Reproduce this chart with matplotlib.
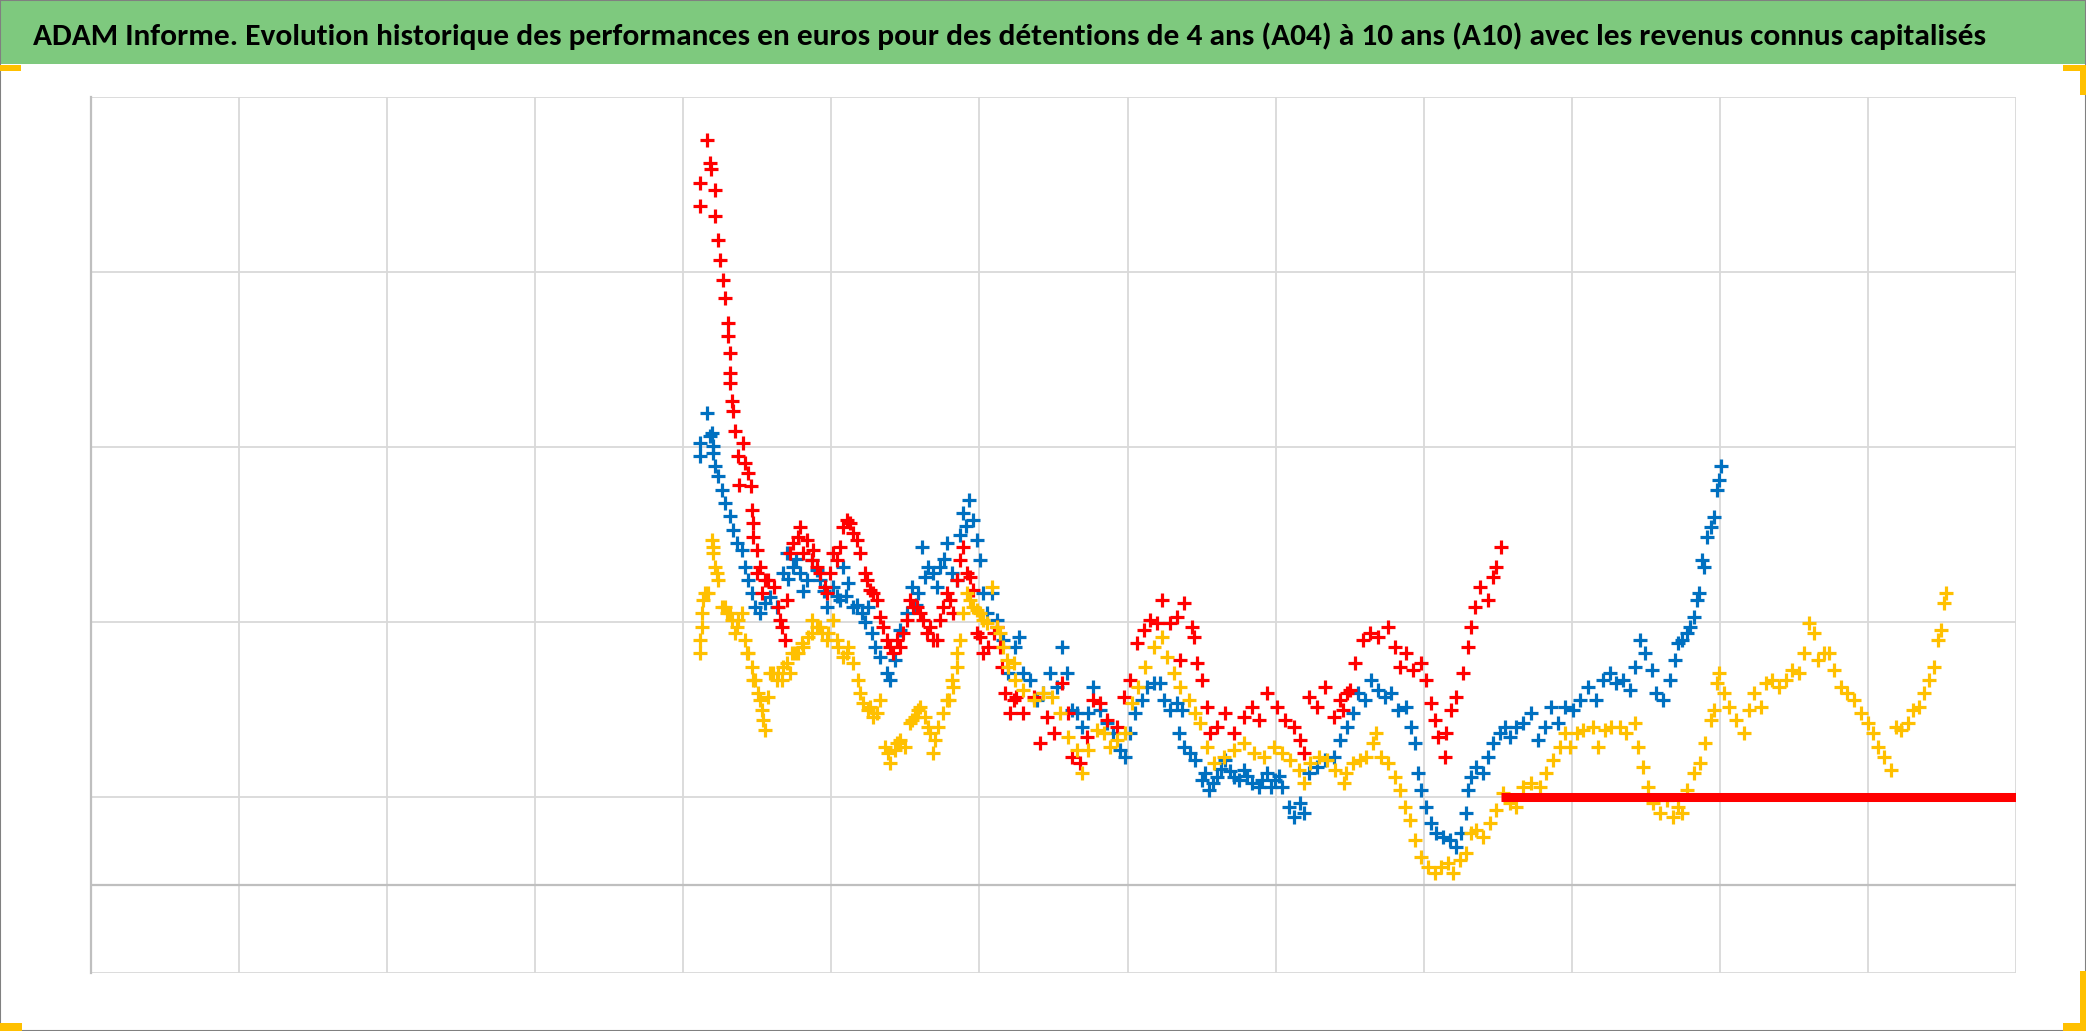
import numpy as np
import matplotlib
matplotlib.use("Agg")
import matplotlib.pyplot as plt
from matplotlib import font_manager
from matplotlib.patches import Rectangle

TITLE = ("ADAM Informe. Evolution historique des performances en euros pour des détentions "
         "de 4 ans (A04) à 10 ans (A10) avec les revenus connus capitalisés")

# x in years on the chart grid (0..13), y in euros
red_x = [4.158, 4.18, 4.19, 4.113, 4.113, 4.214, 4.214, 4.236, 4.248, 4.27, 4.28, 4.30, 4.30,
         4.315, 4.315, 4.318, 4.331, 4.333, 4.349, 4.405, 4.372, 4.417, 4.439, 4.378, 4.455, 4.462, 4.473,
         4.473, 4.495, 4.518, 4.55, 4.61, 4.64, 4.664, 4.687, 4.698, 4.72, 4.743, 4.788, 4.833, 4.878,
         4.923, 4.957, 4.99, 5.01, 5.059, 5.104, 5.149, 5.194, 5.227, 5.26, 5.306, 5.33, 5.374, 5.419,
         5.464, 5.509, 5.554, 5.599, 5.644, 5.689, 5.734, 5.779, 5.824, 5.869, 5.914, 5.959, 5.98, 6.027,
         6.095, 6.14, 6.173, 6.207, 6.25,
         4.495, 4.574, 4.529, 4.653, 4.777, 4.811, 4.867, 4.901, 4.968, 5.037, 5.081, 5.126, 5.171,
         5.239, 5.284, 5.351, 5.396, 5.441, 5.486, 5.532, 5.577, 5.622, 5.667, 5.712, 5.757, 5.802,
         5.847, 5.892, 5.937, 6.005, 6.061, 6.117, 6.151, 6.23,
         6.297, 6.365, 6.41, 6.455, 6.5, 6.556, 6.601, 6.624, 6.68, 6.725, 6.77, 6.815, 6.86, 6.928,
         6.973, 7.018, 7.063, 7.108, 7.153, 7.198, 7.232, 7.288, 7.333, 7.378, 7.435, 7.446, 7.356,
         7.468, 7.502, 7.536, 7.559, 7.604, 7.66, 7.716, 7.784, 7.84, 7.885, 7.941, 8.009, 8.065,
         8.122, 8.167, 8.189, 8.223, 8.279, 8.336, 8.392, 8.437, 8.482,
         8.455, 8.5, 8.534, 8.59, 8.635, 8.691, 8.759, 8.804, 8.838, 8.883, 8.928, 8.984, 9.018,
         9.052, 9.074, 9.097, 9.142, 9.153, 9.187, 9.221, 9.266, 9.3, 9.322, 9.345, 9.378, 9.435,
         9.468, 9.491, 9.525]
red_y = [425.7, 412.4, 408.6, 401.0, 387.6, 397.1, 381.9, 368.6, 357.1, 345.7, 335.2, 321.0, 313.3,
         303.8, 292.4, 286.7, 276.2, 270.5, 259.0, 252.4, 244.8, 241.0, 235.2, 228.6, 227.6, 214.3, 206.7,
         199.0, 191.3, 181.8, 174.2, 170.4, 159.0, 147.5, 139.9, 162.8, 189.4, 195.1, 204.7, 197.0, 191.3,
         178.0, 170.4, 178.0, 189.4, 193.2, 208.5, 200.9, 189.4, 178.0, 168.5, 162.8, 153.2, 139.9, 132.3,
         136.1, 151.3, 159.0, 155.1, 143.7, 139.9, 151.3, 166.6, 155.1, 185.6, 178.0, 168.5, 143.7, 132.3,
         143.7, 136.1, 109.4, 98.0, 107.5,
         178.0, 174.2, 166.6, 151.3, 199.0, 189.4, 185.6, 181.8, 166.6, 185.6, 204.7, 206.6, 197.0,
         174.2, 166.6, 147.5, 136.1, 139.9, 143.7, 162.8, 159.0, 151.3, 147.5, 139.9, 159.0, 162.8,
         174.2, 193.2, 176.1, 141.8, 136.1, 147.5, 124.7, 105.6,
         98.0, 107.5, 80.9, 96.1, 86.6, 115.1, 98.0, 73.2, 69.4, 84.7, 105.6, 103.7, 94.2, 90.4,
         107.5, 117.0, 138.0, 145.6, 151.3, 149.4, 162.8, 149.4, 153.2, 160.9, 147.5, 141.8, 128.5,
         126.6, 117.0, 101.8, 86.6, 90.4, 98.0, 86.6, 96.1, 101.8, 94.2, 109.4, 101.8, 94.2,
         90.4, 82.8, 75.1, 107.5, 101.8, 113.2, 96.1, 105.6, 109.4,
         99.9, 111.3, 126.6, 139.9, 143.7, 141.8, 147.5, 136.1, 124.7, 132.3, 122.8, 126.6, 117.0,
         103.7, 94.2, 84.7, 73.2, 86.6, 99.9, 107.5, 120.9, 136.1, 147.5, 159.0, 170.4, 162.8,
         176.1, 181.8, 193.2]

blue_x = [4.158, 4.113, 4.18, 4.113, 4.203, 4.214, 4.236, 4.259, 4.28, 4.315, 4.191, 4.203, 4.338,
          4.36, 4.394, 4.417, 4.439, 4.462, 4.484, 4.518, 4.552, 4.586, 4.631, 4.676, 4.698, 4.743,
          4.788, 4.833, 4.867, 4.923, 4.968, 5.014, 5.059, 5.081, 5.115, 5.149, 5.205, 5.25, 5.273,
          5.295, 5.329, 5.374, 5.396, 5.43, 5.464, 5.509, 5.543, 5.588, 5.61, 5.655, 5.689, 5.734,
          5.779, 5.813, 5.847, 5.892, 5.926, 5.959, 5.982, 6.005, 6.027, 6.05, 6.083, 6.117, 6.162,
          6.196, 6.241,
          4.71, 4.76, 4.81, 4.90, 4.95, 5.04, 5.10, 5.17, 5.23, 5.57, 5.63, 5.71, 5.76, 5.87, 5.91,
          6.264, 6.297, 6.342, 6.387, 6.432, 6.477, 6.523, 6.556, 6.59, 6.624, 6.658, 6.691, 6.736,
          6.77, 6.815, 6.86, 6.905, 6.95, 6.984, 7.018, 7.052, 7.097, 7.131, 7.176, 7.221, 7.243,
          7.288, 7.333, 7.367, 7.345, 7.378, 7.423, 7.457, 7.502, 7.547, 7.604, 7.66, 7.716, 7.784,
          7.84, 7.885, 7.941, 7.998, 8.043, 8.088, 8.122, 8.167, 8.189, 8.223, 8.279, 8.336, 8.392,
          8.437, 8.482,
          7.52, 7.58, 7.63, 7.69, 7.75, 7.81, 7.91, 7.97, 8.02,
          8.523, 8.556, 8.601, 8.646, 8.691, 8.736, 8.781, 8.827, 8.883, 8.917, 8.939, 8.962, 8.984,
          9.018, 9.052, 9.086, 9.131, 9.176, 9.221, 9.255, 9.288, 9.3, 9.322, 9.356, 9.401, 9.435,
          9.468, 9.514, 9.547, 9.581, 9.626, 9.671, 9.727, 9.773, 9.818, 9.863, 9.908, 9.953, 10.009,
          10.054, 10.11, 10.167, 10.212, 10.257, 10.302, 10.347, 10.392, 10.426, 10.459, 10.493,
          10.541, 10.572, 10.617, 10.662, 10.696, 10.718,
          10.745, 10.779, 10.801, 10.824, 10.847, 10.858, 10.88, 10.892, 10.914, 10.937, 10.959,
          10.982, 10.993, 11.005]
blue_y = [269.5, 252.4, 256.2, 244.8, 250.5, 239.0, 233.3, 225.7, 218.1, 210.5, 258.0, 246.6, 202.8,
          195.1, 191.3, 181.8, 174.2, 166.6, 159.0, 155.1, 160.9, 164.7, 159.0, 178.0, 189.4, 181.8,
          178.0, 174.2, 185.6, 174.2, 159.0, 170.4, 162.8, 181.8, 172.3, 159.0, 155.1, 159.0, 143.7,
          136.1, 130.4, 120.9, 117.0, 128.5, 145.6, 155.1, 170.4, 166.6, 193.2, 181.8, 178.0, 181.8,
          195.1, 178.0, 174.2, 212.3, 219.9, 208.5, 197.0, 185.6, 166.6, 155.1, 166.6, 151.3, 139.9,
          120.9, 136.1,
          175.0, 186.0, 168.0, 180.0, 168.0, 165.0, 165.0, 160.0, 150.0, 160.0, 176.0, 170.0, 186.0, 200.0, 205.0,
          141.8, 120.9, 117.0, 105.6, 109.4, 120.9, 113.2, 136.1, 120.9, 99.9, 98.0, 90.4, 98.0,
          113.2, 99.9, 92.3, 86.6, 77.1, 73.2, 86.6, 98.0, 105.6, 113.2, 115.1, 115.1, 105.6,
          99.9, 103.7, 99.9, 86.6, 79.0, 75.2, 71.4, 59.9, 54.2, 61.8, 71.4, 61.8, 65.6,
          58.0, 56.1, 63.7, 59.9, 56.1, 44.7, 39.0, 46.6, 41.0, 63.7, 67.5, 71.4, 73.3,
          82.8, 90.4,
          64.0, 58.0, 66.0, 65.0, 60.0, 62.0, 60.0, 56.0, 62.0,
          98.0, 109.4, 105.6, 117.0, 111.3, 107.5, 109.4, 99.9, 101.8, 90.4, 80.9, 63.7, 54.2,
          44.7, 35.2, 29.5, 27.6, 25.7, 21.9, 29.5, 40.9, 54.2, 61.8, 67.5, 63.7, 73.2,
          80.9, 86.6, 90.4, 84.7, 90.4, 92.3, 98.0, 82.8, 90.4, 101.8, 92.3, 101.8, 99.9,
          105.6, 113.2, 105.6, 117.0, 120.9, 115.1, 117.0, 111.3, 124.7, 139.9, 132.3,
          122.8, 109.4, 105.6, 117.0, 128.5, 138.0,
          139.9, 143.7, 147.5, 153.2, 162.8, 166.6, 185.6, 181.8, 199.0, 204.7, 210.4,
          225.6, 231.3, 239.0]

gold_x = [4.113, 4.113, 4.124, 4.135, 4.169, 4.191, 4.203, 4.214, 4.236, 4.259, 4.293, 4.327, 4.36,
          4.394, 4.417, 4.439, 4.462, 4.484, 4.507, 4.529, 4.552, 4.574, 4.608, 4.642, 4.664, 4.698,
          4.732, 4.777, 4.811, 4.845, 4.867, 4.901, 4.935, 4.968, 5.014, 5.047, 5.081, 5.115, 5.149,
          5.182, 5.216, 5.25, 5.284, 5.329, 5.363, 5.396, 5.43, 5.464, 5.495, 5.532, 5.565, 5.599,
          5.633, 5.667, 5.689, 5.723, 5.757, 5.791, 5.824, 5.847, 5.869, 5.892, 5.914, 5.959, 6.005,
          6.05, 6.083, 6.117, 6.162, 6.196, 6.241,
          4.124, 4.146, 4.203, 4.225, 4.282, 4.315, 4.349, 4.372, 4.428, 4.473, 4.518, 4.541, 4.586,
          4.631, 4.676, 4.721, 4.755, 4.8, 4.867, 4.923, 4.98, 5.036, 5.104, 5.194, 5.261, 5.306,
          5.385, 5.441, 5.543, 5.588, 5.655, 5.7, 5.779, 5.813, 5.847, 5.937, 5.982, 6.027, 6.14, 6.185,
          6.23, 6.297, 6.365, 6.432, 6.489, 6.545, 6.601, 6.658, 6.691, 6.736, 6.793, 6.838, 6.883,
          6.928, 6.984, 7.029, 7.074, 7.119, 7.176, 7.232, 7.266, 7.311, 7.356, 7.412, 7.457, 7.491,
          7.536, 7.581, 7.649, 7.716, 7.784, 7.851, 7.919, 7.986, 8.043, 8.099, 8.155, 8.189, 8.234,
          8.291, 8.347, 8.403, 8.459,
          8.477, 8.523, 8.568, 8.613, 8.658, 8.68, 8.714, 8.759, 8.804, 8.838, 8.872, 8.905, 8.939,
          8.984, 9.029, 9.074, 9.119, 9.164, 9.198, 9.243, 9.288, 9.322, 9.356, 9.401, 9.446, 9.491,
          9.536, 9.581, 9.626, 9.671, 9.727, 9.784, 9.829, 9.874, 9.919, 9.953, 9.986, 10.032,
          10.077, 10.144, 10.178, 10.223, 10.268, 10.324, 10.369, 10.426, 10.448, 10.482, 10.516,
          10.55, 10.595, 10.64, 10.685, 10.718,
          10.745, 10.779, 10.824, 10.869, 10.903, 10.937, 10.959, 10.982, 10.993, 11.027, 11.061,
          11.106, 11.163, 11.196, 11.23, 11.275, 11.309, 11.354, 11.4, 11.445, 11.49, 11.535,
          11.569, 11.603, 11.637, 11.66, 11.704, 11.738, 11.772, 11.817, 11.862, 11.907, 11.953,
          11.998, 12.032, 12.065, 12.111, 12.156, 12.19, 12.223, 12.269, 12.302, 12.348, 12.381,
          12.415, 12.449, 12.472, 12.494, 12.517, 12.528]
gold_y = [132.3, 139.9, 155.1, 162.8, 166.6, 197.0, 189.4, 181.8, 174.2, 159.0, 155.1, 151.3, 147.5,
          155.1, 139.9, 132.3, 124.7, 117.0, 109.4, 99.9, 88.5, 107.5, 120.9, 120.9, 117.0, 126.6,
          132.3, 132.3, 136.1, 141.8, 151.3, 147.5, 143.7, 139.9, 151.3, 136.1, 130.4, 136.1, 126.6,
          117.0, 103.7, 99.9, 96.1, 105.6, 79.0, 69.4, 77.1, 82.8, 79.0, 92.3, 96.1, 101.8,
          96.1, 86.6, 75.1, 90.4, 98.0, 105.6, 113.2, 124.7, 139.9, 155.1, 166.6, 159.0, 155.1,
          149.4, 170.4, 147.5, 136.1, 124.7, 117.0,
          147.5, 166.6, 193.2, 178.0, 159.0, 155.1, 143.7, 151.3, 132.3, 117.0, 105.6, 94.2, 120.9,
          117.0, 124.7, 120.9, 132.3, 138.0, 143.7, 147.5, 143.7, 139.9, 132.3, 109.4, 101.8, 98.0,
          75.1, 80.9, 94.2, 99.9, 90.4, 82.8, 105.6, 117.0, 132.3, 162.8, 157.0, 151.3, 143.7, 128.5,
          126.6, 111.3, 105.6, 109.4, 107.5, 98.0, 84.7, 77.1, 63.7, 77.1, 88.5, 86.6, 79.0,
          82.8, 86.6, 103.7, 113.2, 124.7, 136.1, 141.8, 130.4, 120.9, 113.2, 105.6, 98.0, 92.3,
          79.0, 69.4, 73.2, 77.1, 80.9, 75.2, 73.2, 79.0, 75.2, 71.4, 65.6, 58.0, 69.4,
          73.2, 71.4, 65.6, 58.0,
          63.7, 69.4, 71.4, 73.2, 80.9, 86.6, 73.2, 69.4, 61.8, 54.2, 44.7, 37.1, 25.7,
          16.2, 10.5, 6.7, 10.5, 12.4, 6.7, 14.3, 18.1, 29.5, 31.4, 27.6, 35.2, 42.8,
          52.4, 46.6, 44.7, 56.1, 58.0, 56.1, 63.7, 71.4, 79.0, 86.6, 79.0, 86.6,
          88.5, 90.4, 79.0, 88.5, 90.4, 90.4, 86.6, 92.3, 79.0, 67.5, 56.1,
          46.6, 40.9, 48.5, 39.0, 44.7,
          41.0, 54.2, 63.7, 69.4, 80.9, 94.2, 99.9, 115.1, 120.9, 109.4, 101.8,
          94.2, 86.6, 99.9, 109.4, 101.8, 115.1, 117.0, 113.2, 117.0, 122.8, 120.9,
          132.3, 149.4, 143.7, 128.5, 132.3, 132.3, 122.8, 113.2, 109.4, 105.6, 98.0,
          92.3, 86.6, 79.0, 73.2, 65.6, 90.4, 88.5, 92.3, 99.9, 101.8, 109.4,
          117.0, 124.7, 139.9, 145.6, 161.0, 166.6]

# flat red series at the end (start, end)
flat_x = [9.525, 13.0]
flat_y = [50.0, 50.0]

x_grid = list(range(0, 14))
y_grid = [-50, 50, 150, 250, 350, 450]

RED, BLUE, GOLD = "#FF0000", "#0070C0", "#FFC000"
GRID, AXIS = "#D9D9D9", "#BFBFBF"
GREEN = "#7EC97E"

W, H, DPI = 2086, 1031, 100
fig = plt.figure(figsize=(W / DPI, H / DPI), dpi=DPI)
fig.patch.set_facecolor("white")

# title band
fig.add_artist(Rectangle((0, 1 - 64 / H), 1, 64 / H, transform=fig.transFigure,
                         facecolor=GREEN, edgecolor="none", zorder=0))

avail = {f.name for f in font_manager.fontManager.ttflist}
title_font = next((f for f in ["Carlito", "Liberation Sans Narrow", "Roboto Condensed",
                               "Open Sans Condensed", "DejaVu Sans Condensed", "Lato", "Roboto"]
                   if f in avail), "DejaVu Sans")
t = fig.text(33 / W, 1 - 36 / H, TITLE, family=title_font, weight="bold", fontsize=28,
             color="black", ha="left", va="center")
fig.canvas.draw()
bb = t.get_window_extent(renderer=fig.canvas.get_renderer())
t.set_fontsize(28 * 1952 / bb.width)

ax = fig.add_axes([91 / W, 1 - 972.5 / H, (2016 - 91) / W, (972.5 - 97) / H])
ax.set_xlim(0, 13)
ax.set_ylim(-50, 450)
for s in ["top", "right", "bottom"]:
    ax.spines[s].set_visible(False)
ax.spines["left"].set_color(AXIS)
ax.spines["left"].set_linewidth(1.6)
ax.set_xticks([])
ax.set_yticks([])
for xv in x_grid:
    ax.axvline(xv, color=GRID, lw=1.3, zorder=0)
for yv in y_grid:
    ax.axhline(yv, color=GRID, lw=1.3, zorder=0)
ax.axhline(0, color=AXIS, lw=1.6, zorder=0.5)

mk = dict(marker="+", linestyle="none", markersize=10, markeredgewidth=2.3)
ax.plot(blue_x, blue_y, color=BLUE, **mk)
ax.plot(red_x, red_y, color=RED, **mk)
ax.plot(gold_x, gold_y, color=GOLD, **mk)
ax.plot(flat_x, flat_y, color=RED, lw=6.5, solid_capstyle="butt")

# outer frame and corner handles
fig.add_artist(Rectangle((0, 0), 1, 1, transform=fig.transFigure, fill=False,
                         edgecolor="#808080", lw=1.5))
for (x0, y0, w, h) in [(0, 1031 - 71, 21, 6), (0, 0, 22, 8), (2063, 0, 23, 8), (2080, 0, 6, 60),
                       (2063, 1031 - 71, 23, 6), (2080, 1031 - 95, 6, 30)]:
    fig.add_artist(Rectangle((x0 / W, y0 / H), w / W, h / H, transform=fig.transFigure,
                             facecolor=GOLD, edgecolor="none"))

fig.savefig("out.png", dpi=DPI)
